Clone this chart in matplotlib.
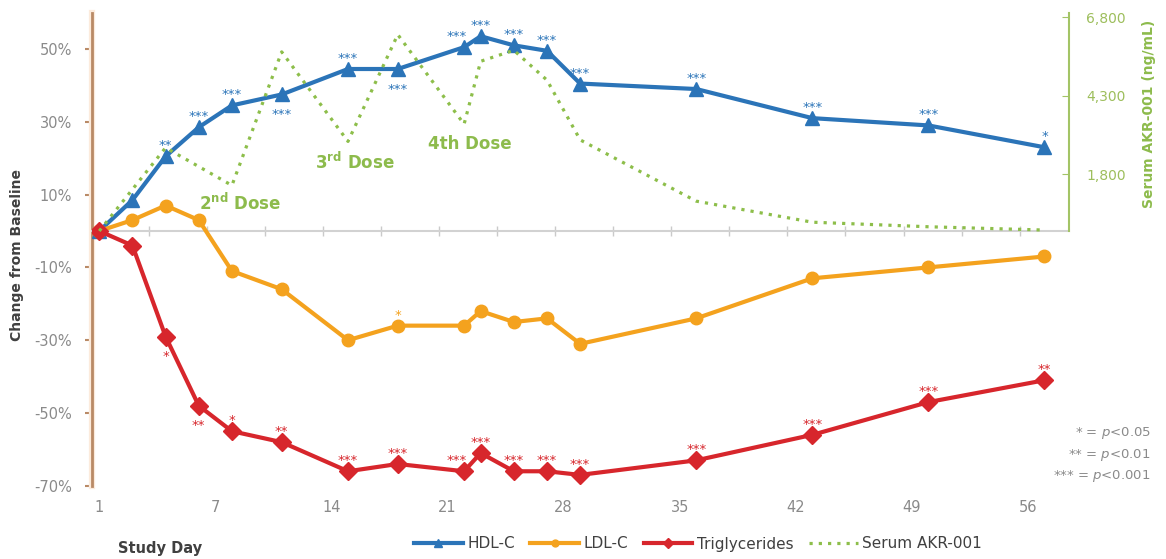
import numpy as np
import matplotlib.pyplot as plt
from matplotlib import patheffects as pe

plt.rcParams['font.family'] = ['DejaVu Sans']
plt.rcParams['mathtext.fontset'] = 'dejavusans'

# study visits (days after first dose) and % change from baseline
days = [0, 2, 4, 6, 8, 11, 15, 18, 22, 23, 25, 27, 29, 36, 43, 50, 57]
hdl = [0, 8.5, 20.5, 28.5, 34.5, 37.5, 44.5, 44.5, 50.5, 53.5, 51, 49.5, 40.5, 39, 31, 29, 23]
ldl = [0, 3, 7, 3, -11, -16, -30, -26, -26, -22, -25, -24, -31, -24, -13, -10, -7]
tg = [0, -4, -29, -48, -55, -58, -66, -64, -66, -61, -66, -66, -67, -63, -56, -47, -41]

# significance marks ("v" = drawn below the point)
hdl_sig = ['', '', '**', '***', '***', '***v', '***', '***v', '***', '***', '***', '***', '***', '***', '***', '***', '*']
ldl_sig = ['', '', '', '', '', '', '', '*', '', '', '', '', '', '', '', '', '']
tg_sig = ['', '', '*v', '**v', '*', '**', '***', '***', '***', '***', '***', '***', '***', '***', '***', '***', '**']

# serum AKR-001 concentration (ng/mL)
pk_days = [0, 4, 8, 11, 15, 18, 22, 23, 25, 27, 29, 36, 43, 50, 57]
pk = [0, 2650, 1450, 5700, 2850, 6250, 3400, 5400, 5750, 4800, 2900, 950, 280, 135, 30]

xlabel_pos = [0, 7, 14, 21, 28, 35, 42, 49, 56]
xlabel_txt = ['1', '7', '14', '21', '28', '35', '42', '49', '56']
minor_pos = [3.5 * k - 0.5 for k in range(1, 17)]

blue = '#2B74B8'
orange = '#F4A21E'
red = '#D7262C'
green = '#8DBE4A'
gray = '#8A8A8A'

fig = plt.figure(figsize=(11.66, 5.59), dpi=100)
ax = fig.add_axes([0.0786, 0.1309, 0.9171 - 0.0786, 0.9775 - 0.1309])
ax.set_xlim(-0.46, 58.5)
ax.set_ylim(-70, 60)

ax.plot(days, hdl, color=blue, lw=3, marker='^', ms=10, label='HDL-C', zorder=4)
ax.plot(days, ldl, color=orange, lw=3, marker='o', ms=9, label='LDL-C', zorder=4)
ax.plot(days, tg, color=red, lw=3, marker='D', ms=9, label='Triglycerides', zorder=4)

def stars(vals, sig, color):
    for x, y, s in zip(days, vals, sig):
        if not s:
            continue
        below = s.endswith('v')
        dx = -5 if x == 22 else 0
        ax.annotate(s.rstrip('v'), (x, y), xytext=(dx, -17 if below else 5),
                    textcoords='offset points', ha='center', va='baseline',
                    color=color, fontsize=9.5, zorder=6)

stars(hdl, hdl_sig, blue)
stars(ldl, ldl_sig, orange)
stars(tg, tg_sig, red)

# left axis
for s in ['top', 'right']:
    ax.spines[s].set_visible(False)
ax.spines['left'].set_color('#B98A66')
ax.spines['left'].set_linewidth(2)
ax.spines['left'].set_bounds(-70, 60)
ax.spines['left'].set_path_effects([pe.withStroke(linewidth=4.5, foreground='#FCEBDC')])
ax.set_yticks([-70, -50, -30, -10, 10, 30, 50])
ax.set_yticklabels([f'{v}%' for v in [-70, -50, -30, -10, 10, 30, 50]])
ax.tick_params(axis='y', direction='out', length=5, width=1.5, color='#B98A66',
               labelcolor=gray, labelsize=10.5, pad=9)

# zero line with small ticks
ax.spines['bottom'].set_position(('data', 0))
ax.spines['bottom'].set_color('#D2D2D2')
ax.spines['bottom'].set_linewidth(1.5)
ax.set_xticks(minor_pos)
ax.set_xticklabels([])
ax.tick_params(axis='x', direction='inout', length=7, width=1, color='#CACACA')

sec = ax.secondary_xaxis(0)
sec.set_xticks(xlabel_pos, labels=xlabel_txt)
sec.spines['bottom'].set_visible(False)
sec.tick_params(length=0, pad=10, labelcolor=gray, labelsize=10.5)

# right axis for serum drug levels
ax2 = ax.twinx()
top = 6950
ax2.set_ylim(-top * 70 / 60, top)
ax2.plot(pk_days, pk, color=green, lw=2.3, linestyle=(0, (1, 1.9)), label='Serum AKR-001', zorder=5)
for s in ['top', 'left', 'bottom']:
    ax2.spines[s].set_visible(False)
ax2.spines['right'].set_bounds(0, top)
ax2.spines['right'].set_color('#A3C466')
ax2.spines['right'].set_linewidth(1.5)
ax2.set_yticks([1800, 4300, 6800])
ax2.set_yticklabels(['1,800', '4,300', '6,800'])
ax2.tick_params(axis='y', direction='in', length=5, color='#A3C466',
                labelcolor='#9DBE5C', labelsize=10, pad=12)

fig.text(1149 / 1166, 1 - 114 / 559, 'Serum AKR-001 (ng/mL)', rotation=90, ha='center', va='center',
         color='#8DBB4C', fontweight='bold', fontsize=10)

# dose labels
ax.text(6.0, 7.5, '2$^{\\mathbf{nd}}$ Dose', color='#8DBB4C', fontsize=12, fontweight='bold', va='center')
ax.text(13.0, 19, '3$^{\\mathbf{rd}}$ Dose', color='#8DBB4C', fontsize=12, fontweight='bold', va='center')
ax.text(19.8, 24, '4th Dose', color='#8DBB4C', fontsize=12, fontweight='bold', va='center')

fig.text(17 / 1166, 1 - 255 / 559, 'Change from Baseline', rotation=90, ha='center', va='center',
         fontsize=10, fontweight='bold', color='#404040')
fig.text(118 / 1166, 1 - 548 / 559, 'Study Day', ha='left', va='center',
         fontsize=10.5, fontweight='bold', color='#404040')

for i, t in enumerate(['* = $\\it{p}$<0.05', '** = $\\it{p}$<0.01', '*** = $\\it{p}$<0.001']):
    fig.text(1151 / 1166, 1 - (433 + 21.7 * i) / 559, t, ha='right', va='center',
             fontsize=9.5, color=gray)

h1, l1 = ax.get_legend_handles_labels()
h2, l2 = ax2.get_legend_handles_labels()
leg = fig.legend(h1 + h2, l1 + l2, loc='center left', bbox_to_anchor=(400 / 1166, 1 - 544 / 559),
                 ncol=4, frameon=False, fontsize=11, handlelength=3.2, handletextpad=0.3,
                 columnspacing=1.0, markerscale=0.55)
for t in leg.get_texts():
    t.set_color('#404040')

fig.savefig('out.png', dpi=100)
